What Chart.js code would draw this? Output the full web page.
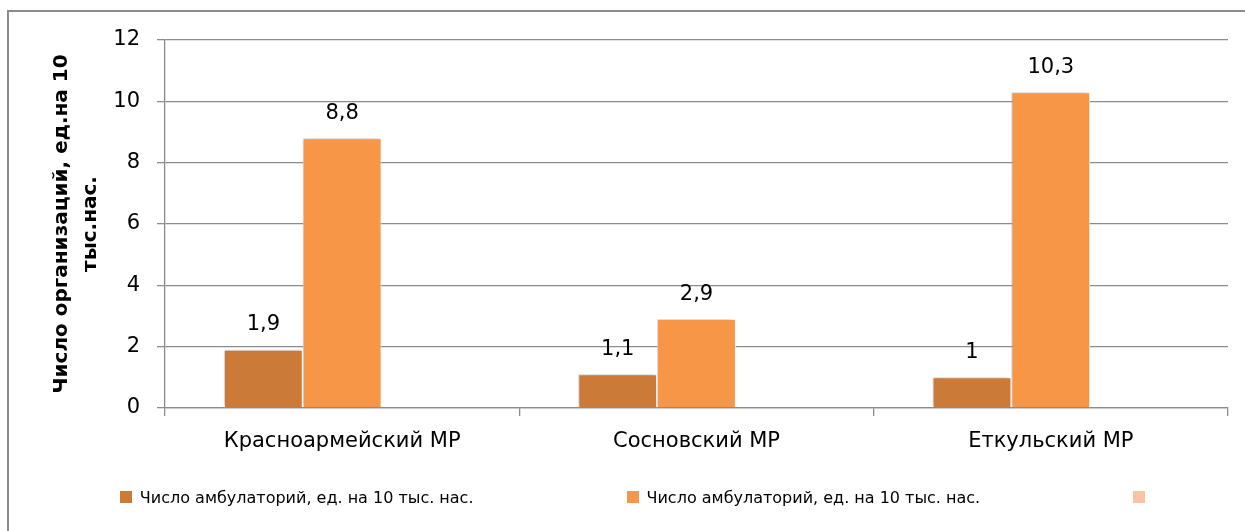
<!DOCTYPE html>
<html lang="ru">
<head>
<meta charset="utf-8">
<title>Число амбулаторий</title>
<script src="https://cdn.jsdelivr.net/npm/chart.js@4/dist/chart.umd.min.js"></script>
<style>
    html, body { margin: 0; padding: 0; background: #fff; overflow: hidden; }
    #wrap { position: relative; width: 1245px; height: 531px; overflow: hidden; }
    #frame {
        position: absolute; left: 7px; top: 10px; width: 1300px; height: 540px;
        border-left: 2px solid #8c8c8c; border-top: 2px solid #8c8c8c;
    }
    #chart { position: absolute; left: 0; top: 0; }
    #legend {
        position: absolute; left: 14px; top: 485px; width: 1245px;
        display: flex; justify-content: center; gap: 153px;
        font-family: "DejaVu Sans", sans-serif; font-size: 16px; color: #000;
    }
    .item { display: flex; align-items: center; height: 24px; }
    .box { width: 12px; height: 12px; margin-right: 8px; }
</style>
</head>
<body>
<div id="wrap">
    <div id="frame"></div>
    <canvas id="chart" width="1245" height="531"></canvas>
    <div id="legend"></div>
</div>
<script>
const categories = ['Красноармейский МР', 'Сосновский МР', 'Еткульский МР'];
const seriesNames = [
    'Число амбулаторий, ед. на 10 тыс. нас.',
    'Число амбулаторий, ед. на 10 тыс. нас.',
    ''
];
const seriesA = [1.9, 1.1, 1];
const seriesB = [8.8, 2.9, 10.3];
const seriesC = [null, null, null];
const seriesColors = ['#cc7a38', '#f79646', '#fac3a6'];
const yTicks = [0, 2, 4, 6, 8, 10, 12];

const gridColor = '#8c8c8c';
const font = 'DejaVu Sans';

// value labels above bars, decimal comma like the source
const valueLabels = {
    id: 'valueLabels',
    afterDatasetsDraw(chart) {
        const ctx = chart.ctx;
        ctx.save();
        ctx.font = '21px "' + font + '"';
        ctx.fillStyle = '#000';
        ctx.textAlign = 'center';
        ctx.textBaseline = 'middle';
        chart.data.datasets.forEach((ds, i) => {
            const meta = chart.getDatasetMeta(i);
            meta.data.forEach((bar, j) => {
                const v = ds.data[j];
                if (v === null || v === undefined) return;
                ctx.fillText(String(v).replace('.', ','), bar.x, bar.y - 25);
            });
        });
        ctx.restore();
    }
};

// soft shadow behind the bars
const barShadow = {
    id: 'barShadow',
    beforeDatasetsDraw(chart) {
        const ctx = chart.ctx;
        ctx.save();
        ctx.shadowColor = 'rgba(0,0,0,0.22)';
        ctx.shadowBlur = 4;
        ctx.shadowOffsetX = -2;
        ctx.shadowOffsetY = -1;
    },
    afterDatasetsDraw(chart) {
        chart.ctx.restore();
    }
};

const datasets = [seriesA, seriesB, seriesC].map((data, i) => ({
    label: seriesNames[i],
    data: data,
    backgroundColor: seriesColors[i],
    borderColor: '#ffffff',
    borderWidth: 1,
    categoryPercentage: 0.667,
    barPercentage: 1.0
}));

const ctx = document.getElementById('chart').getContext('2d');
new Chart(ctx, {
    type: 'bar',
    data: { labels: categories, datasets: datasets },
    plugins: [barShadow, valueLabels],
    options: {
        responsive: false,
        animation: false,
        layout: { padding: { left: 0, right: 17, top: 40, bottom: 63 } },
        plugins: {
            legend: { display: false },
            tooltip: { enabled: false }
        },
        scales: {
            y: {
                min: 0,
                max: 12,
                afterBuildTicks: (scale) => { scale.ticks = yTicks.map(v => ({ value: v })); },
                afterFit: (scale) => { scale.width = 165; },
                ticks: {
                    color: '#000',
                    padding: 17,
                    font: { family: font, size: 21 }
                },
                grid: { color: gridColor, lineWidth: 1.3, tickLength: 8 },
                border: { color: gridColor, width: 1.3 },
                title: {
                    display: true,
                    text: ['Число организаций, ед.на 10', 'тыс.нас.'],
                    color: '#000',
                    font: { family: font, size: 20, weight: 'bold', lineHeight: 1.45 },
                    padding: { top: 47, bottom: 0 }
                }
            },
            x: {
                afterFit: (scale) => { scale.height = 60; },
                ticks: {
                    color: '#000',
                    padding: 13,
                    font: { family: font, size: 21 }
                },
                grid: { drawOnChartArea: false, color: gridColor, lineWidth: 1.3, tickLength: 8 },
                border: { color: gridColor, width: 1.3 }
            }
        }
    }
});

// legend built from the same series names and colours
const legend = document.getElementById('legend');
seriesNames.forEach((name, i) => {
    const item = document.createElement('div');
    item.className = 'item';
    item.innerHTML = `<span class="box" style="background:${seriesColors[i]}"></span><span>${name}</span>`;
    legend.appendChild(item);
});
</script>
</body>
</html>
